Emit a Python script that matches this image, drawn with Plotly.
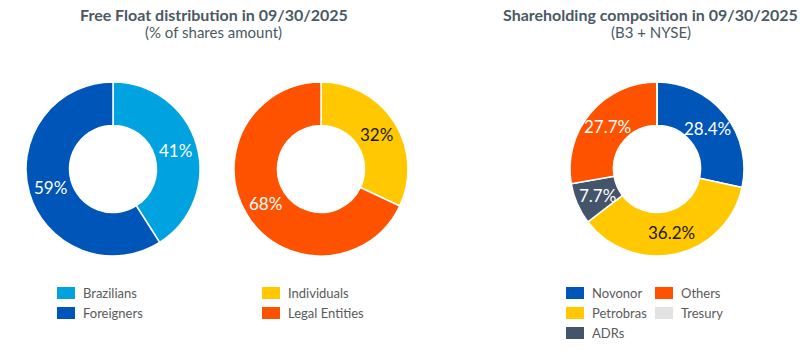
import math
import plotly.graph_objects as go

# ---- data ----
ff_origin_labels = ["Brazilians", "Foreigners"]
ff_origin_values = [41, 59]
ff_origin_colors = ["#00A3E0", "#0055B8"]
ff_origin_textcol = ["white", "white"]

ff_type_labels = ["Individuals", "Legal Entities"]
ff_type_values = [32, 68]
ff_type_colors = ["#FFC800", "#FF5200"]
ff_type_textcol = ["#1a1a1a", "white"]

sh_labels = ["Novonor", "Petrobras", "ADRs", "Others", "Tresury"]
sh_values = [28.4, 36.2, 7.7, 27.7, 0.0]
sh_colors = ["#0055B8", "#FFC800", "#44546A", "#FF5200", "#E3E3E3"]
sh_textcol = ["white", "#1a1a1a", "white", "white", "white"]

title1 = "Free Float distribution in 09/30/2025"
sub1 = "(% of shares amount)"
title2 = "Shareholding composition in 09/30/2025"
sub2 = "(B3 + NYSE)"

W, H = 810, 351
FONT = "Lato"
TITLE_COL = "#4B5963"
LEG_COL = "#5A5A5A"
HOLE = 0.5
R = 87

def px_x(v):
    return v / W

def px_y(v):
    return 1 - v / H

def dom(cx, cy, r):
    return dict(x=[px_x(cx - r), px_x(cx + r)], y=[px_y(cy + r), px_y(cy - r)])

fig = go.Figure()
annotations = []
shapes = []

def add_text(x, y, text, size, bold=False, color=TITLE_COL, xanchor="center"):
    annotations.append(dict(
        x=px_x(x), y=px_y(y), xref="paper", yref="paper", showarrow=False,
        text=("<b>%s</b>" % text) if bold else text, xanchor=xanchor, yanchor="middle",
        font=dict(family=FONT, size=size, color=color),
    ))

def add_pie(labels, values, colors, textcol, fmt, cx, cy):
    fig.add_trace(go.Pie(
        labels=labels, values=values, sort=False, direction="clockwise",
        rotation=0, hole=HOLE, domain=dom(cx, cy, R),
        marker=dict(colors=colors, line=dict(color="white", width=1.5)),
        textinfo="none", showlegend=False, hoverinfo="label+value",
    ))
    # slice labels placed at the middle of each ring segment (derived from values)
    total = sum(values)
    cum = 0.0
    rm = R * (1 + HOLE) / 2
    for v, c in zip(values, textcol):
        if v > 0:
            ang = math.radians((cum + v / 2) / total * 360)
            add_text(cx + rm * math.sin(ang), cy - rm * math.cos(ang), fmt.format(v), 17, color=c)
        cum += v

add_pie(ff_origin_labels, ff_origin_values, ff_origin_colors, ff_origin_textcol, "{:.0f}%", 113, 169)
add_pie(ff_type_labels, ff_type_values, ff_type_colors, ff_type_textcol, "{:.0f}%", 321, 169)
add_pie(sh_labels, sh_values, sh_colors, sh_textcol, "{:.1f}%", 657, 169)

add_text(214, 14, title1, 16, bold=True)
add_text(214, 32, sub1, 15)
add_text(650, 14, title2, 16, bold=True)
add_text(651, 32, sub2, 15)

def legend_item(x, y, color, label):
    shapes.append(dict(type="rect", xref="paper", yref="paper",
                       x0=px_x(x), x1=px_x(x + 18), y0=px_y(y + 6), y1=px_y(y - 6),
                       fillcolor=color, line=dict(width=0)))
    add_text(x + 24, y, label, 13, color=LEG_COL, xanchor="left")

for i, (lab, col) in enumerate(zip(ff_origin_labels, ff_origin_colors)):
    legend_item(57, 293 + 20 * i, col, lab)
for i, (lab, col) in enumerate(zip(ff_type_labels, ff_type_colors)):
    legend_item(262, 293 + 20 * i, col, lab)
# shareholding legend: first column 3 items, second column 2 items
for k, (lab, col) in enumerate(zip(sh_labels, sh_colors)):
    colx = 566 if k < 3 else 655
    row = k if k < 3 else k - 3
    legend_item(colx, 293 + 20 * row, col, lab)

fig.update_layout(
    width=W, height=H, margin=dict(l=0, r=0, t=0, b=0),
    paper_bgcolor="white", plot_bgcolor="white",
    annotations=annotations, shapes=shapes,
    font=dict(family=FONT),
)

fig.write_html("out.html")
